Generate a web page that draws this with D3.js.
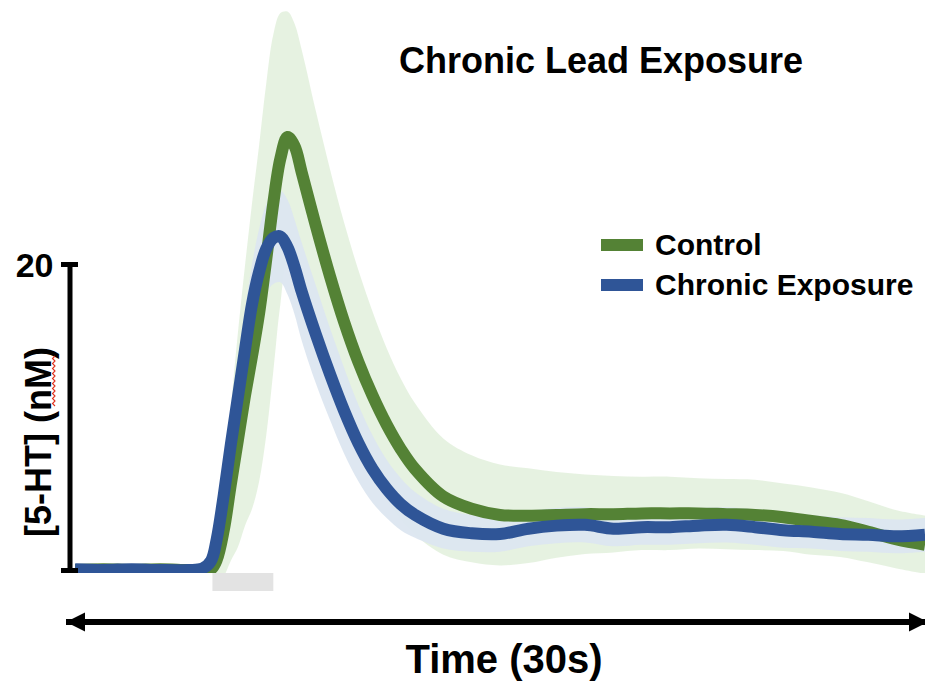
<!DOCTYPE html>
<html>
<head>
<meta charset="utf-8">
<script src="https://cdn.jsdelivr.net/npm/d3@7"></script>
<style>
  html, body { margin: 0; padding: 0; background: #fff; }
  svg { display: block; font-family: "Liberation Sans", Arial, sans-serif; font-weight: bold; }
</style>
</head>
<body>
<svg id="chart" width="925" height="683"></svg>
<script>
// time in seconds, [5-HT] in nM
const time = [0, 1, 2, 3, 4, 4.5, 4.8, 5, 5.25, 5.5, 5.75, 6, 6.25, 6.5, 6.75, 7, 7.25, 7.5, 7.75, 8,
  8.5, 9, 9.5, 10, 10.5, 11, 11.5, 12, 13, 14, 15, 16, 17, 18, 19, 20, 21, 22, 23, 24, 25, 26, 27, 28, 29, 30];

const control = [0, 0.05, 0, 0.05, 0, 0, 0.05, 0.65, 2.6, 5.6, 8.5, 11.4, 14.0, 16.8, 20.3, 24.0, 26.9, 28.3, 27.7, 26.0,
  22.5, 19.2, 16.2, 13.6, 11.4, 9.5, 7.9, 6.6, 4.8, 4.0, 3.6, 3.55, 3.6, 3.65, 3.65, 3.7, 3.7, 3.7, 3.65, 3.6, 3.45, 3.2, 2.95, 2.5, 2.0, 1.65];
const controlSem = [0.2, 0.2, 0.2, 0.2, 0.2, 0.2, 0.5, 1.5, 3, 5, 7, 8.5, 10, 11, 11.5, 11, 9.5, 8.2, 8, 8,
  7.5, 7, 6.5, 6, 5.5, 5, 4.6, 4.3, 3.8, 3.5, 3.3, 3.1, 2.8, 2.6, 2.5, 2.4, 2.4, 2.3, 2.3, 2.3, 2.2, 2.2, 2.1, 2.0, 1.9, 1.9];

const chronic = [0.05, 0, 0.05, 0, 0, 0.1, 0.6, 2.0, 4.9, 8.2, 11.3, 14.4, 17.4, 19.5, 21.0, 21.7, 21.8, 21.1, 19.8, 18.2,
  15.4, 12.8, 10.4, 8.3, 6.6, 5.3, 4.3, 3.6, 2.7, 2.4, 2.35, 2.7, 2.9, 2.95, 2.7, 2.8, 2.8, 2.9, 2.95, 2.8, 2.6, 2.5, 2.35, 2.3, 2.2, 2.3];
const chronicSem = [0.2, 0.2, 0.2, 0.2, 0.2, 0.2, 0.5, 1, 1.5, 2, 2.2, 2.5, 2.6, 2.8, 2.9, 3, 3, 3.1, 3.1, 3.2,
  3.2, 3, 2.8, 2.5, 2.2, 1.9, 1.7, 1.5, 1.3, 1.2, 1.15, 1.15, 1.15, 1.15, 1.15, 1.15, 1.15, 1.15, 1.15, 1.15, 1.15, 1.1, 1.1, 1.1, 1.1, 1.1];

const stimulus = [4.85, 7];           // grey bar under the rise
const seriesNames = ['Control', 'Chronic Exposure'];
const yTicks = [0, 20];

const COLORS = { line: ['#548235', '#2f5597'], band: ['#e5f1df', '#dce6f0'] };

const svg = d3.select('#chart');
const x = d3.scaleLinear().domain([0, 30]).range([75, 925]);
const y = d3.scaleLinear().domain([0, 20]).range([570, 264]);

const series = [
  { name: seriesNames[0], mean: control, sem: controlSem },
  { name: seriesNames[1], mean: chronic, sem: chronicSem },
].map((s) => ({ ...s, pts: time.map((t, i) => ({ t, m: s.mean[i], e: s.sem[i] })) }));

svg.append('defs').append('clipPath').attr('id', 'plotClip')
  .append('rect').attr('x', x(0)).attr('y', 0).attr('width', x(30) - x(0)).attr('height', y(0) + 3);

const curve = d3.curveCatmullRom.alpha(0.5);
const area = d3.area().curve(curve).x((d) => x(d.t)).y0((d) => y(d.m - d.e)).y1((d) => y(d.m + d.e));
const line = d3.line().curve(curve).x((d) => x(d.t)).y((d) => y(d.m));

const plot = svg.append('g').attr('clip-path', 'url(#plotClip)');
// bands first, then the two mean traces on top
plot.selectAll('path.band').data(series).join('path')
  .attr('class', 'band').attr('d', (d) => area(d.pts))
  .attr('fill', (d, i) => COLORS.band[i]).attr('fill-opacity', 0.95);
plot.selectAll('path.trace').data(series).join('path')
  .attr('class', 'trace').attr('d', (d) => line(d.pts))
  .attr('fill', 'none').attr('stroke', (d, i) => COLORS.line[i])
  .attr('stroke-width', 12).attr('stroke-linejoin', 'round');

// stimulus bar
svg.append('rect')
  .attr('x', x(stimulus[0])).attr('width', x(stimulus[1]) - x(stimulus[0]))
  .attr('y', y(0) + 3).attr('height', 18).attr('fill', '#e3e3e3');

// y axis: only a bar with two end caps and a "20"
const yAxis = svg.append('g').attr('transform', 'translate(69.5,0)')
  .call(d3.axisLeft(y).tickValues(yTicks).tickSizeOuter(0).tickSize(8)
    .tickFormat((d) => (d === 0 ? '' : d)));
yAxis.select('.domain').attr('stroke', '#000').attr('stroke-width', 5);
yAxis.selectAll('.tick line').attr('x1', 8.5).attr('x2', -8.5).attr('stroke', '#000').attr('stroke-width', 5);
yAxis.selectAll('.tick text').attr('x', -16).attr('dy', '0.36em')
  .attr('font-size', 34).attr('font-weight', 'bold').attr('fill', '#000')
  .attr('font-family', '"Liberation Sans", Arial, sans-serif');

svg.append('text')
  .attr('transform', 'translate(51,442) rotate(-90)')
  .attr('text-anchor', 'middle').attr('font-size', 36).text('[5-HT] (nM)');
// spell-check squiggle under "nM"
const sq = d3.path();
sq.moveTo(55, 356);
for (let yy = 356, k = 0; yy < 406; yy += 2.5, k++) sq.lineTo(k % 2 ? 55 : 52.5, yy + 2.5);
svg.append('path').attr('d', sq.toString()).attr('fill', 'none').attr('stroke', '#e0301e').attr('stroke-width', 1.1);

// time arrow
const defs = svg.select('defs');
defs.append('marker').attr('id', 'head').attr('viewBox', '0 0 10 10').attr('refX', 10).attr('refY', 5)
  .attr('markerUnits', 'userSpaceOnUse').attr('markerWidth', 19).attr('markerHeight', 20)
  .attr('orient', 'auto-start-reverse')
  .append('path').attr('d', 'M0,0L10,5L0,10Z').attr('fill', '#000');
svg.append('line')
  .attr('x1', x(0) - 9).attr('x2', x(30) + 3).attr('y1', 622).attr('y2', 622)
  .attr('stroke', '#000').attr('stroke-width', 6)
  .attr('marker-start', 'url(#head)').attr('marker-end', 'url(#head)');
svg.append('text').attr('x', 504).attr('y', 673).attr('text-anchor', 'middle')
  .attr('font-size', 40).text('Time (30s)');

// title
svg.append('text').attr('x', 601).attr('y', 73).attr('text-anchor', 'middle')
  .attr('font-size', 36).text('Chronic Lead Exposure');

// legend
const lg = svg.append('g').selectAll('g').data(series).join('g')
  .attr('transform', (d, i) => `translate(601,${245 + i * 40})`);
lg.append('rect').attr('x', 0).attr('y', -6).attr('width', 42).attr('height', 12)
  .attr('fill', (d, i) => COLORS.line[i]);
lg.append('text').attr('x', 54).attr('y', 10).attr('font-size', 30).text((d) => d.name);
</script>
</body>
</html>
